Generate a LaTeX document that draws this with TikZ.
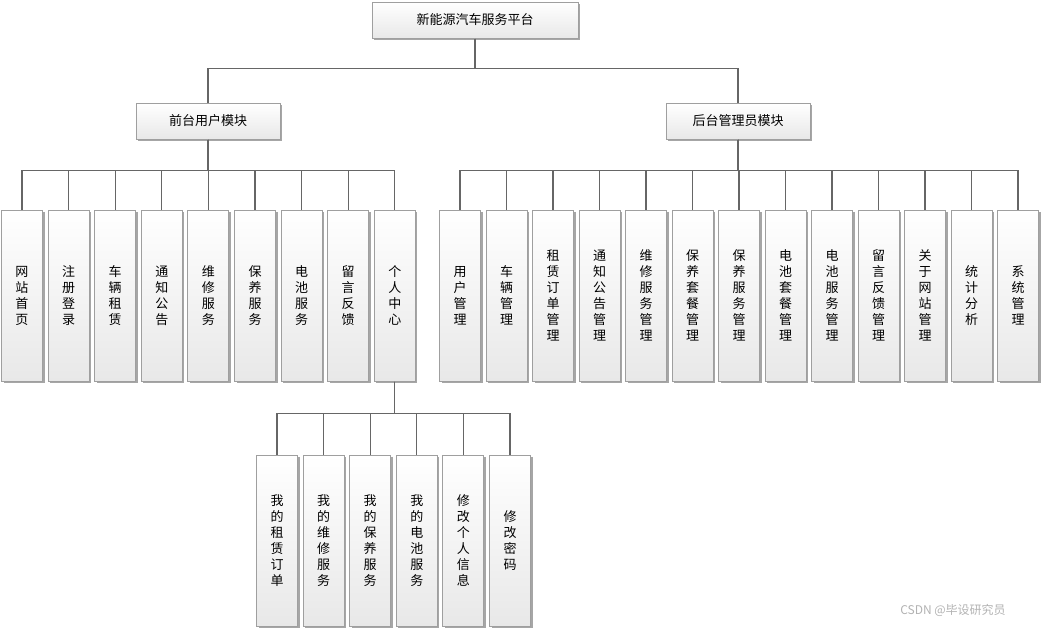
\documentclass[tikz,border=0pt]{standalone}
\usepackage{fontspec}
\setmainfont{Noto Sans CJK SC}
\usetikzlibrary{shadows}
\begin{document}
\begin{tikzpicture}[x=1pt,y=-1pt,
  box/.style={draw=gray!75,line width=1pt,top color=white,bottom color=gray!18,
    drop shadow={shadow xshift=2pt,shadow yshift=-2pt,fill=gray!70,opacity=1},
    inner sep=0pt,font=\fontsize{13}{16}\selectfont,align=center},
  hbox/.style={box,minimum height=36pt},
  vbox/.style={box,minimum width=41pt,minimum height=171pt},
  link/.style={draw=gray!80!black,line width=1.2pt}]
\useasboundingbox (0,0) rectangle (1042,629);
% top levels
\node[hbox,minimum width=206pt] (root) at (475,20) {新能源汽车服务平台};
\node[hbox,minimum width=144pt] (front) at (208,121) {前台用户模块};
\node[hbox,minimum width=144pt] (back) at (738,121) {后台管理员模块};
\draw[link] (root.south) -- ++(0,30) -| (front.north);
\draw[link] (root.south) -- ++(0,30) -| (back.north);
% front-end modules
\foreach \t [count=\i] in {{网\\站\\首\\页},{注\\册\\登\\录},{车\\辆\\租\\赁},{通\\知\\公\\告},
  {维\\修\\服\\务},{保\\养\\服\\务},{电\\池\\服\\务},{留\\言\\反\\馈},{个\\人\\中\\心}}{
  \node[vbox] (m\i) at ({22+46.6*(\i-1)},295.5) {\t};
  \draw[link] (front.south) -- ++(0,31) -| (m\i.north);
}
% back-end modules
\foreach \t [count=\i] in {{用\\户\\管\\理},{车\\辆\\管\\理},{租\\赁\\订\\单\\管\\理},{通\\知\\公\\告\\管\\理},
  {维\\修\\服\\务\\管\\理},{保\\养\\套\\餐\\管\\理},{保\\养\\服\\务\\管\\理},{电\\池\\套\\餐\\管\\理},
  {电\\池\\服\\务\\管\\理},{留\\言\\反\\馈\\管\\理},{关\\于\\网\\站\\管\\理},{统\\计\\分\\析},{系\\统\\管\\理}}{
  \node[vbox] (a\i) at ({460+46.5*(\i-1)},295.5) {\t};
  \draw[link] (back.south) -- ++(0,31) -| (a\i.north);
}
% personal centre
\foreach \t [count=\i] in {{我\\的\\租\\赁\\订\\单},{我\\的\\维\\修\\服\\务},{我\\的\\保\\养\\服\\务},
  {我\\的\\电\\池\\服\\务},{修\\改\\个\\人\\信\\息},{修\\改\\密\\码}}{
  \node[vbox] (p\i) at ({277+46.6*(\i-1)},540.5) {\t};
  \draw[link] (m9.south) -- ++(0,32) -| (p\i.north);
}
\node[text=gray!60,font=\fontsize{12}{14}\selectfont] (mark) at (953,610) {CSDN @毕设研究员};
\end{tikzpicture}
\end{document}
